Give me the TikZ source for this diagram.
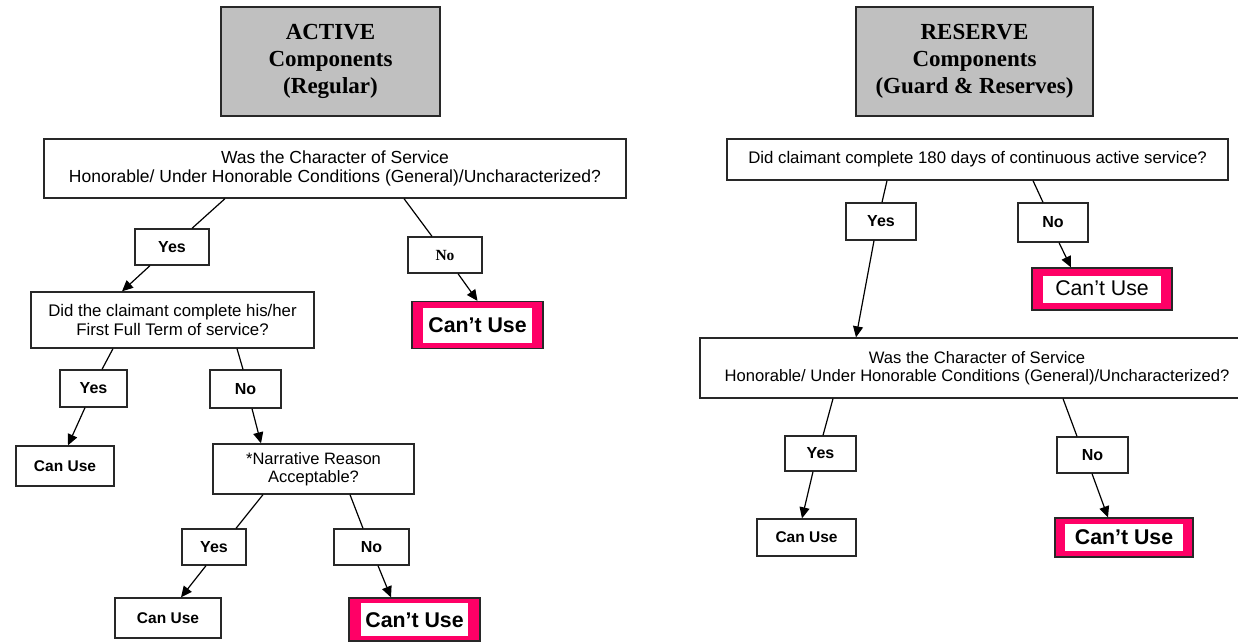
\documentclass[tikz,border=0pt]{standalone}
\usepackage{fontspec}
\setmainfont{Liberation Sans}
\newfontfamily\serifnum{Liberation Serif}
\usetikzlibrary{arrows.meta}
\definecolor{hdrgray}{RGB}{192,192,192}
\definecolor{cupink}{RGB}{255,0,102}
\definecolor{edge}{RGB}{40,40,40}
\newcommand\cuinner[4]{\setlength\fboxsep{0pt}\colorbox{white}{\makebox[#1pt]{\rule[-#3pt]{0pt}{#2pt}#4}}}
\tikzset{
  hdr/.style={draw=edge, line width=1.4pt, fill=hdrgray, inner sep=0pt, align=center,
    font=\serifnum\bfseries\fontsize{23}{27}\selectfont},
  qbox/.style={draw=edge, line width=1.3pt, fill=white, inner sep=0pt, align=center,
    font=\fontsize{17.5}{18.3}\selectfont},
  lbl/.style={draw=edge, line width=1.3pt, fill=white, inner sep=0pt, align=center,
    font=\bfseries\fontsize{16}{18}\selectfont},
  cubox/.style={draw=edge, line width=1.2pt, fill=cupink, inner sep=0pt, align=center},
  ln/.style={line width=1.2pt, draw=black},
  arr/.style={line width=1.2pt, draw=black, -{Triangle[length=11pt,width=10pt]}}
}
\begin{document}
\begin{tikzpicture}[x=1pt,y=-1pt]
\useasboundingbox (0,0) rectangle (1238,642);
% ---------- ACTIVE ----------
\node[hdr, minimum width=219pt, minimum height=109pt] (hA) at (330.5,61.5) {ACTIVE\\Components\\(Regular)};
\node[qbox, minimum width=582pt, minimum height=59pt] (q1) at (335,168.5)
  {Was the Character of Service\\Honorable/ Under Honorable Conditions (General)/Uncharacterized?};
\node[lbl, minimum width=74pt, minimum height=36pt] (y1) at (172,247) {Yes};
\node[lbl, minimum width=74pt, minimum height=36pt, font=\serifnum\bfseries\fontsize{15.5}{17}\selectfont] (n1) at (445,255) {No};
\node[cubox, minimum width=131pt, minimum height=47pt] (c1) at (477.5,325)
  {\cuinner{109}{35}{10}{\bfseries\fontsize{21.3}{24}\selectfont Can’t Use}};
\node[qbox, minimum width=283pt, minimum height=56pt, font=\fontsize{16.8}{18.3}\selectfont] (q2) at (172.5,320)
  {Did the claimant complete his/her\\First Full Term of service?};
\node[lbl, minimum width=67pt, minimum height=37pt] (y2) at (93.5,388.5) {Yes};
\node[lbl, minimum width=71pt, minimum height=38pt] (n2) at (245.5,389) {No};
\node[lbl, minimum width=98pt, minimum height=40pt, font=\bfseries\fontsize{15.5}{17}\selectfont] (u1) at (65,466) {Can Use};
\node[qbox, minimum width=201pt, minimum height=50pt, font=\fontsize{16.5}{18.3}\selectfont] (q3) at (313.5,469)
  {*Narrative Reason\\Acceptable?};
\node[lbl, minimum width=64pt, minimum height=36pt] (y3) at (214,547) {Yes};
\node[lbl, minimum width=75pt, minimum height=36pt] (n3) at (371.5,547) {No};
\node[lbl, minimum width=106pt, minimum height=40pt, font=\bfseries\fontsize{15.5}{17}\selectfont] (u2) at (168,618) {Can Use};
\node[cubox, minimum width=131pt, minimum height=43pt] (c2) at (414.5,619.5)
  {\cuinner{107}{33}{9}{\bfseries\fontsize{21.3}{24}\selectfont Can’t Use}};
% connectors active
\draw[ln]  ([xshift=-110pt]q1.south) -- ([xshift=20pt]y1.north);
\draw[arr] ([xshift=-22pt]y1.south) -- ([xshift=-50.5pt]q2.north);
\draw[ln]  ([xshift=69pt]q1.south) -- ([xshift=-13pt]n1.north);
\draw[arr] ([xshift=13pt]n1.south) -- ([xshift=0pt]c1.north);
\draw[ln]  ([xshift=-59.5pt]q2.south) -- ([xshift=8.5pt]y2.north);
\draw[arr] ([xshift=-8.5pt]y2.south) -- ([xshift=3pt]u1.north);
\draw[ln]  ([xshift=64.5pt]q2.south) -- ([xshift=-2.5pt]n2.north);
\draw[arr] ([xshift=6.5pt]n2.south) -- ([xshift=-52.5pt]q3.north);
\draw[ln]  ([xshift=-50.5pt]q3.south) -- ([xshift=22pt]y3.north);
\draw[arr] ([xshift=-8pt]y3.south) -- ([xshift=13pt]u2.north);
\draw[ln]  ([xshift=36.5pt]q3.south) -- ([xshift=-8.5pt]n3.north);
\draw[arr] ([xshift=6.5pt]n3.south) -- ([xshift=-23.5pt]c2.north);
% ---------- RESERVE ----------
\node[hdr, minimum width=237pt, minimum height=109pt] (hR) at (974.5,61.5) {RESERVE\\Components\\(Guard \& Reserves)};
\node[qbox, minimum width=501pt, minimum height=41pt, font=\fontsize{16.8}{18.3}\selectfont] (r1) at (977.5,159.5)
  {Did claimant complete 180 days of continuous active service?};
\node[lbl, minimum width=70pt, minimum height=37pt] (ry1) at (881,221.5) {Yes};
\node[lbl, minimum width=70pt, minimum height=39pt] (rn1) at (1053,222.5) {No};
\node[cubox, minimum width=140pt, minimum height=42pt] (rc1) at (1102,289)
  {\cuinner{118}{27}{7}{\fontsize{21.3}{24}\selectfont Can’t Use}};
\node[qbox, minimum width=554pt, minimum height=60pt, font=\fontsize{16.6}{18.3}\selectfont] (r2) at (977,368)
  {Was the Character of Service\\Honorable/ Under Honorable Conditions (General)/Uncharacterized?};
\node[lbl, minimum width=71pt, minimum height=35pt] (ry2) at (820.5,453.5) {Yes};
\node[lbl, minimum width=71pt, minimum height=36pt] (rn2) at (1092.5,455) {No};
\node[lbl, minimum width=99pt, minimum height=37pt, font=\bfseries\fontsize{15.5}{17}\selectfont] (ru1) at (806.5,537.5) {Can Use};
\node[cubox, minimum width=138pt, minimum height=39pt] (rc2) at (1124,537.5)
  {\cuinner{118}{27}{7}{\bfseries\fontsize{21.3}{24}\selectfont Can’t Use}};
% connectors reserve
\draw[ln]  ([xshift=-90.5pt]r1.south) -- ([xshift=1pt]ry1.north);
\draw[arr] ([xshift=-7pt]ry1.south) -- ([xshift=-121pt]r2.north);
\draw[ln]  ([xshift=55.5pt]r1.south) -- ([xshift=-10pt]rn1.north);
\draw[arr] ([xshift=6pt]rn1.south) -- ([xshift=-31pt]rc1.north);
\draw[ln]  ([xshift=-144pt]r2.south) -- ([xshift=2.5pt]ry2.north);
\draw[arr] ([xshift=-7.5pt]ry2.south) -- ([xshift=-4.5pt]ru1.north);
\draw[ln]  ([xshift=86pt]r2.south) -- ([xshift=-15.5pt]rn2.north);
\draw[arr] ([xshift=-0.5pt]rn2.south) -- ([xshift=-16pt]rc2.north);
\end{tikzpicture}
\end{document}
